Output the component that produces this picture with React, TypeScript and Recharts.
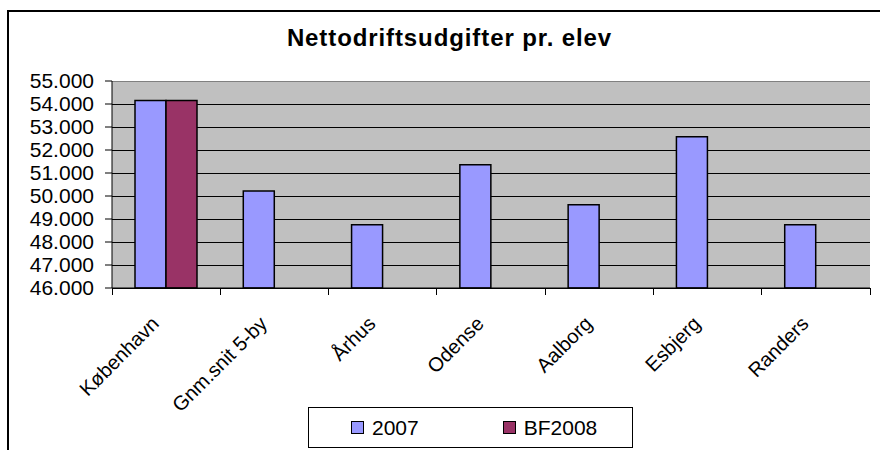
import React from 'react'
import {
    BarChart, Bar, XAxis, YAxis, CartesianGrid, Legend, ReferenceLine
} from 'recharts'

const FONT = '"Liberation Sans", Arial, sans-serif'

const categories = ['København', 'Gnm.snit 5-by', 'Århus', 'Odense', 'Aalborg', 'Esbjerg', 'Randers']
const values2007 = [54150, 50220, 48750, 51360, 49620, 52580, 48750]
const valuesBF2008 = [54150, null, null, null, null, null, null]
const yTicks = [46000, 47000, 48000, 49000, 50000, 51000, 52000, 53000, 54000, 55000]

const data = categories.map((name, i) => ({ name, y2007: values2007[i], bf2008: valuesBF2008[i] }))

const fmt = (v: number) => String(v).replace(/\B(?=(\d{3})+(?!\d))/g, '.')

function XTick(props: any) {
    const { x, y, payload, index } = props
    const half = payload.offset || 54
    const top = y - 8
    const ax = x - 6
    const ay = y + 29
    return (
        <g shapeRendering="crispEdges">
            <line x1={x - half} y1={top} x2={x - half} y2={top + 7} stroke="#000" />
            {index === categories.length - 1 && (
                <line x1={x + half} y1={top} x2={x + half} y2={top + 7} stroke="#000" />
            )}
            <text
                x={ax}
                y={ay}
                textAnchor="end"
                fontSize={20}
                fontFamily={FONT}
                fill="#000"
                shapeRendering="auto"
                transform={`rotate(-45, ${ax}, ${ay})`}
            >
                {payload.value}
            </text>
        </g>
    )
}

function LegendBox() {
    const items = [
        { label: '2007', color: '#9999ff' },
        { label: 'BF2008', color: '#993366' },
    ]
    return (
        <div style={{
            border: '1px solid #000', background: '#fff', width: 323, height: 39,
            display: 'flex', alignItems: 'center', fontFamily: FONT, fontSize: 21, color: '#000'
        }}>
            {items.map((it, i) => (
                <div key={it.label} style={{ display: 'flex', alignItems: 'center', marginLeft: i === 0 ? 42 : 84 }}>
                    <span style={{ width: 11, height: 11, background: it.color, border: '1px solid #000', marginRight: 8 }} />
                    <span>{it.label}</span>
                </div>
            ))}
        </div>
    )
}

export default function App() {
    return (
        <div style={{ position: 'absolute', left: 0, top: 0, width: 880, height: 450, overflow: 'hidden', background: '#fff' }}>
            <div style={{
                position: 'absolute', left: 7, top: 10, width: 900, height: 500,
                border: '2px solid #000', boxSizing: 'border-box'
            }} />
            <div style={{
                position: 'absolute', left: 0, top: 24, width: 899, textAlign: 'center',
                fontFamily: FONT, fontWeight: 'bold', fontSize: 24, letterSpacing: 0.9, color: '#000'
            }}>
                Nettodriftsudgifter pr. elev
            </div>
            <BarChart
                width={880}
                height={450}
                data={data}
                margin={{ top: 81, right: 10, left: 0, bottom: 0 }}
                barGap={0}
                barSize={31}
                style={{ position: 'absolute', left: 0, top: 0 }}
            >
                <CartesianGrid
                    vertical={false}
                    stroke="#000"
                    fill="#c0c0c0"
                    fillOpacity={1}
                    shapeRendering="crispEdges"
                    horizontalValues={yTicks.slice(0, -1)}
                />
                <ReferenceLine y={55000} stroke="#808080" shapeRendering="crispEdges" />
                <XAxis
                    dataKey="name"
                    interval={0}
                    height={121}
                    stroke="#000"
                    tickLine={false}
                    tick={<XTick />}
                />
                <YAxis
                    domain={[46000, 55000]}
                    ticks={yTicks}
                    width={112}
                    stroke="#000"
                    tickSize={7}
                    tickMargin={11}
                    tickFormatter={fmt}
                    tick={{ fill: '#000', fontSize: 21, fontFamily: FONT }}
                    interval={0}
                />
                <YAxis yAxisId="edge" orientation="right" width={0} tick={false} tickLine={false} stroke="#808080" />
                <Legend
                    content={<LegendBox />}
                    verticalAlign="bottom"
                    wrapperStyle={{ position: 'absolute', left: 308, top: 407, width: 325, height: 41 }}
                />
                <Bar dataKey="y2007" name="2007" fill="#9999ff" stroke="#000" strokeWidth={1.5} isAnimationActive={false} />
                <Bar dataKey="bf2008" name="BF2008" fill="#993366" stroke="#000" strokeWidth={1.5} isAnimationActive={false} />
            </BarChart>
        </div>
    )
}
